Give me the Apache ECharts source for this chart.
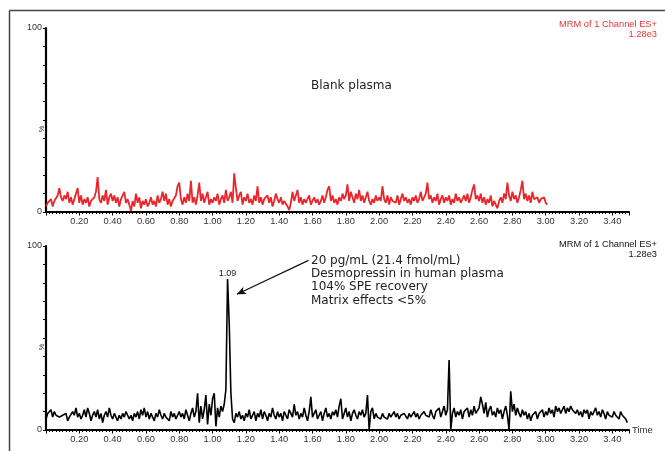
<!DOCTYPE html>
<html>
<head>
<meta charset="utf-8">
<script src="https://cdn.jsdelivr.net/npm/echarts@6/dist/echarts.min.js"></script>
<style>
  html, body { margin: 0; padding: 0; background: #fff; }
  #chart { width: 665px; height: 451px; }
</style>
</head>
<body>
<div id="chart"></div>
<script>
// Scan grid of both chromatograms (minutes)
const SCAN_START = 0;
const SCAN_STEP = 0.01;

// Blank plasma trace, relative intensity (%) per scan, 0.00 - 3.01 min
const blankIntensity = [
  3, 5, 4, 7, 3, 6, 5, 9, 13, 8,
  6, 9, 7, 11, 5, 8, 4, 7, 6, 13,
  5, 9, 4, 7, 5, 8, 3, 6, 5, 8,
  11, 19, 7, 5, 9, 6, 12, 4, 8, 10,
  6, 9, 5, 8, 3, 7, 6, 11, 5, 7,
  4, 0.5, 6, 3, 10, 5, 8, 2, 6, 4,
  7, 3, 5, 8, 4, 6, 3, 9, 5, 7,
  11, 6, 10, 4, 7, 3, 6, 5, 9, 14,
  16, 7, 4, 8, 5, 10, 6, 17, 5, 8,
  4, 9, 16, 6, 10, 5, 8, 11, 4, 7,
  5, 8, 6, 10, 4, 7, 9, 5, 12, 6,
  8, 11, 5, 21, 13, 6, 9, 11, 4, 8,
  6, 10, 5, 7, 4, 9, 6, 14, 5, 8,
  4, 7, 6, 9, 5, 8, 3, 6, 10, 7,
  5, 8, 4, 6, 7, 3, 1, 5, 11, 6,
  9, 12, 5, 8, 4, 7, 5, 6, 9, 4,
  6, 8, 5, 7, 4, 6, 9, 5, 8, 12,
  14, 6, 9, 5, 7, 4, 8, 6, 10, 7,
  9, 15, 6, 11, 8, 5, 10, 7, 12, 6,
  9, 5, 8, 11, 6, 4, 7, 5, 9, 6,
  8, 6, 14, 7, 5, 9, 4, 8, 6, 7,
  5, 9, 4, 7, 10, 6, 8, 5, 7, 4,
  8, 6, 9, 5, 7, 11, 6, 8, 10, 16,
  7, 9, 5, 8, 6, 10, 4, 7, 9, 5,
  8, 6, 9, 4, 7, 5, 10, 6, 8, 5,
  7, 9, 6, 10, 5, 8, 12, 15, 7, 9,
  6, 10, 5, 8, 4, 7, 5, 9, 3, 6,
  4, 2, 6, 8, 5, 10, 7, 16, 9, 6,
  11, 7, 9, 5, 8, 12, 17, 7, 10, 6,
  9, 5, 11, 7, 6, 8, 5, 7, 6, 8,
  5, 4
];

// Spiked plasma trace (20 pg/mL desmopressin), relative intensity (%) per scan, 0.00 - 3.49 min
const sampleIntensity = [
  6, 9, 8, 11, 7, 10, 8, 9, 7, 6,
  8, 7, 9, 5, 7, 6, 10, 8, 12, 7,
  9, 6, 8, 11, 7, 12, 9, 5, 8, 10,
  7, 11, 6, 9, 4, 8, 10, 7, 12, 8,
  6, 9, 7, 5, 8, 6, 9, 7, 10, 8,
  6, 8, 5, 9, 7, 10, 6, 11, 8, 12,
  7, 10, 6, 9, 8, 5, 9, 7, 11, 8,
  6, 9, 7, 8, 5, 10, 7, 9, 6, 8,
  10, 7, 9, 6, 11, 8, 5, 9, 12, 7,
  10, 20, 4, 13, 6, 11, 19, 3, 14, 8,
  17, 20, 2, 12, 7, 13, 10, 14, 22, 82,
  58, 20, 6, 4, 9, 7, 10, 6, 8, 5,
  9, 7, 11, 6, 8, 10, 5, 9, 7, 11,
  6, 10, 8, 5, 9, 7, 12, 8, 6, 10,
  7, 9, 5, 10, 8, 6, 11, 9, 7, 14,
  8, 10, 6, 9, 7, 12, 8, 5, 10, 18,
  7, 9, 11, 6, 8, 10, 5, 9, 12, 7,
  9, 6, 10, 8, 11, 7, 13, 17, 6, 9,
  12, 7, 10, 5, 9, 11, 8, 6, 10, 8,
  11, 7, 9, 19, 0, 10, 12, 6, 9, 7,
  8, 6, 9, 7, 8, 6, 9, 7, 8, 10,
  7, 9, 6, 8, 7, 9, 8, 6, 9, 7,
  8, 10, 7, 9, 6, 8, 7, 10, 8, 9,
  7, 11, 8, 6, 10, 9, 12, 7, 10, 13,
  8, 11, 38, 0, 9, 12, 7, 10, 8, 11,
  6, 10, 9, 12, 7, 11, 8, 13, 9, 10,
  12, 18, 14, 9, 15, 7, 11, 13, 8, 10,
  7, 12, 9, 11, 6, 10, 13, 8, 0, 21,
  10, 14, 8, 12, 9, 7, 11, 8, 10, 6,
  9, 5, 8, 7, 10, 6, 9, 8, 11, 7,
  10, 8, 12, 9, 11, 7, 13, 10, 12, 9,
  11, 13, 9, 12, 10, 13, 11, 12, 9, 11,
  8, 10, 7, 11, 9, 11, 6, 10, 8, 9,
  12, 8, 10, 7, 11, 9, 6, 10, 8, 9,
  7, 10, 8, 9, 6, 10, 8, 7, 6, 4
];

// Time axis (min) and intensity axis (%)
const TIME_MIN = 0, TIME_MAX = 3.5, TIME_STEP = 0.2;
const PCT_MIN = 0, PCT_MAX = 100, PCT_STEP = 10;

const channelTitle = 'MRM of 1 Channel ES+';
const channelScale = '1.28e3';
const blankLabel = 'Blank plasma';
const noteLines = [
  '20 pg/mL (21.4 fmol/mL)',
  'Desmopressin in human plasma',
  '104% SPE recovery',
  'Matrix effects <5%'
];
// Annotation arrow, in (time, %) of the lower chromatogram
const ARROW_FROM = [1.576, 92.2];
const ARROW_TO = [1.146, 73.8];

const AXIS_FONT = '"Liberation Sans", Arial, sans-serif';
const NOTE_FONT = '"DejaVu Sans", Verdana, sans-serif';

function toPairs(values) {
  return values.map((v, i) => [+(SCAN_START + i * SCAN_STEP).toFixed(2), v]);
}

const blankData = toPairs(blankIntensity);
const sampleData = toPairs(sampleIntensity);

// apex of the spiked trace
let peakIdx = 0;
sampleIntensity.forEach((v, i) => { if (v > sampleIntensity[peakIdx]) peakIdx = i; });
const peakPoint = sampleData[peakIdx];

function timeAxis(gridIndex, withName) {
  return {
    type: 'value', gridIndex,
    min: TIME_MIN, max: TIME_MAX, interval: TIME_STEP,
    name: withName ? 'Time' : '',
    nameLocation: 'end', nameGap: 3,
    nameTextStyle: { fontFamily: AXIS_FONT, fontSize: 9.5, color: '#333', verticalAlign: 'middle' },
    axisLine: { show: true, onZero: false, lineStyle: { color: '#000', width: 2.2 } },
    axisTick: { show: true, inside: false, length: 3.5, lineStyle: { color: '#000', width: 1 } },
    minorTick: { show: true, splitNumber: 10, length: 2, lineStyle: { color: '#000', width: 1 } },
    axisLabel: {
      margin: 5, fontFamily: AXIS_FONT, fontSize: 9.3, color: '#333',
      formatter: v => (v <= 0 || v > 3.45) ? '' : v.toFixed(2)
    },
    splitLine: { show: false }
  };
}

function pctAxis(gridIndex) {
  return {
    type: 'value', gridIndex,
    min: PCT_MIN, max: PCT_MAX, interval: PCT_STEP,
    axisLine: { show: true, lineStyle: { color: '#000', width: 2.2 } },
    axisTick: { show: true, inside: false, length: 3, lineStyle: { color: '#000', width: 1 } },
    axisLabel: {
      margin: 4, fontFamily: AXIS_FONT, fontSize: 9, color: '#333',
      formatter: v => (v === PCT_MIN || v === PCT_MAX) ? String(v) : ''
    },
    splitLine: { show: false }
  };
}

function headerText(y, color) {
  return {
    type: 'text', x: 657, y,
    style: { text: channelTitle + '\n' + channelScale, align: 'right', verticalAlign: 'top', fill: color, font: '9.3px ' + AXIS_FONT, lineHeight: 10.5 }
  };
}

function pctMark(y) {
  return {
    type: 'text', x: 42, y, rotation: Math.PI / 2,
    style: { text: '%', align: 'center', verticalAlign: 'middle', fill: '#333', font: '7.5px ' + AXIS_FONT }
  };
}

const chart = echarts.init(document.getElementById('chart'), null, { renderer: 'canvas' });

chart.setOption({
  animation: false,
  backgroundColor: '#fff',
  grid: [
    { left: 46, top: 28, width: 583, height: 184 },
    { left: 46, top: 246, width: 583, height: 184 }
  ],
  xAxis: [timeAxis(0, false), timeAxis(1, true)],
  yAxis: [pctAxis(0), pctAxis(1)],
  series: [
    {
      type: 'line', xAxisIndex: 0, yAxisIndex: 0,
      data: blankData, showSymbol: false, silent: true,
      lineStyle: { color: '#e8262b', width: 1.8 }
    },
    {
      type: 'line', xAxisIndex: 1, yAxisIndex: 1,
      data: sampleData, showSymbol: false, silent: true,
      lineStyle: { color: '#000', width: 1.6 },
      markPoint: {
        silent: true, symbol: 'circle', symbolSize: 0,
        label: {
          show: true, position: 'top', distance: 1,
          fontFamily: AXIS_FONT, fontSize: 9, color: '#222',
          formatter: '{c}'
        },
        data: [{ coord: peakPoint, value: peakPoint[0].toFixed(2) }]
      },
      markLine: {
        silent: true, symbol: ['none', 'arrow'], symbolSize: [6, 9],
        label: { show: false },
        lineStyle: { color: '#111', width: 1.2, type: 'solid' },
        data: [[{ coord: ARROW_FROM }, { coord: ARROW_TO }]]
      }
    }
  ],
  graphic: [
    // outer frame
    { type: 'line', shape: { x1: 9.5, y1: 10.5, x2: 665, y2: 10.5 }, style: { stroke: '#444', lineWidth: 1.5 } },
    { type: 'line', shape: { x1: 9.5, y1: 10.5, x2: 9.5, y2: 451 }, style: { stroke: '#444', lineWidth: 1.5 } },
    // channel headers
    headerText(19, '#e53535'),
    headerText(239, '#111'),
    // intensity axis unit
    pctMark(129),
    pctMark(347),
    // panel annotations
    { type: 'text', left: 311, top: 80, style: { text: blankLabel, fill: '#222', font: '12px ' + NOTE_FONT } },
    { type: 'text', left: 311, top: 254, style: { text: noteLines.join('\n'), fill: '#222', font: '12px ' + NOTE_FONT, lineHeight: 13.3 } }
  ]
});
</script>
</body>
</html>
